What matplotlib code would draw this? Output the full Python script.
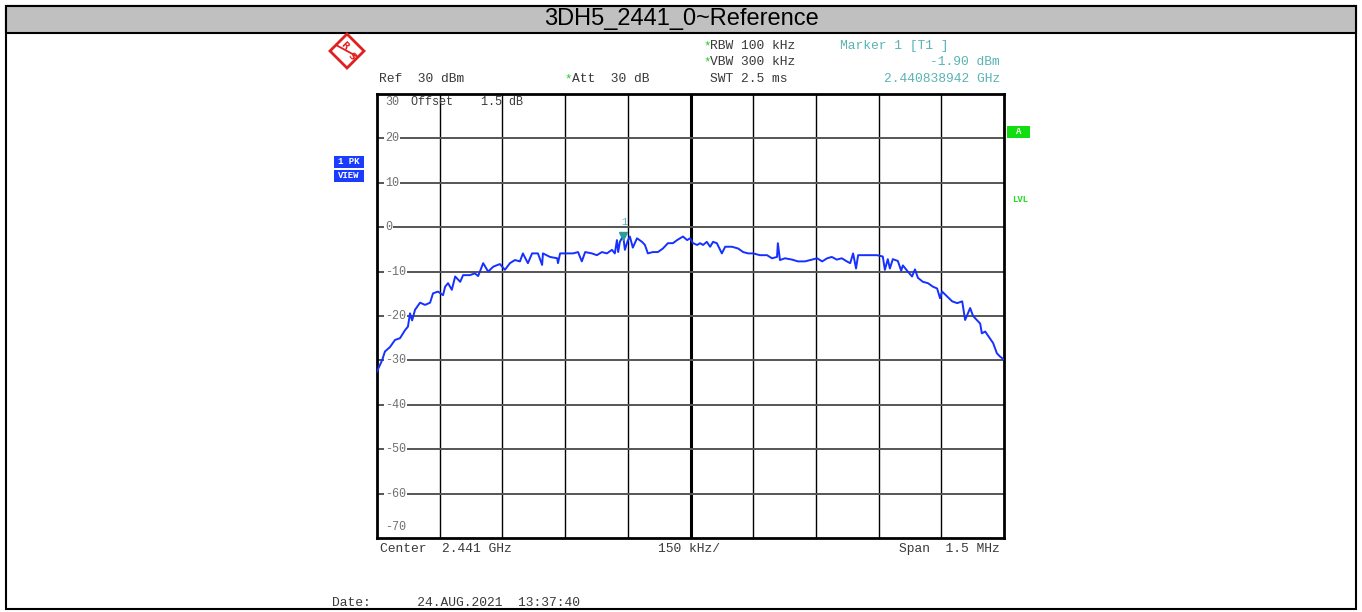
import numpy as np
import matplotlib
matplotlib.use("Agg")
import matplotlib.pyplot as plt
from matplotlib.patches import Rectangle, Polygon

W, H = 1362, 612

# trace: kHz from the left edge of the span, level in dBm
span_khz = [0, 12, 19, 31, 43, 55, 67, 74, 79, 84, 91, 103, 115, 127, 134, 146,
            158, 163, 170, 179, 187, 199, 206, 222, 234, 242, 254, 266, 278, 294,
            306, 318, 330, 342, 349, 361, 371, 385, 395, 397, 414, 431, 433, 438,
            455, 469, 481, 490, 498, 514, 526, 538, 550, 562, 569, 574, 577, 581,
            589, 593, 600, 605, 612, 622, 634, 641, 648, 660, 672, 684, 696, 708,
            718, 725, 732, 742, 749, 756, 766, 773, 780, 789, 797, 804, 813, 825,
            833, 849, 864, 876, 888, 900, 916, 933, 945, 957, 959, 964, 976, 993,
            1007, 1024, 1041, 1053, 1065, 1077, 1088, 1100, 1112, 1124, 1132, 1139,
            1146, 1151, 1163, 1179, 1196, 1210, 1215, 1222, 1227, 1234, 1246, 1254,
            1258, 1270, 1280, 1287, 1294, 1306, 1318, 1330, 1340, 1347, 1352, 1364,
            1376, 1388, 1400, 1407, 1419, 1426, 1435, 1443, 1447, 1455, 1466, 1474,
            1483, 1490, 1500]
level_dbm = [-32.5, -30, -28, -27, -25.4, -25, -23.2, -22.4, -19.4, -21, -18.6, -17,
             -17.5, -17, -14.9, -14.5, -15.3, -13.4, -12.6, -14.1, -11.1, -12.3, -10.8,
             -10.8, -10.4, -11, -8.1, -10, -8.9, -8.3, -9.6, -8.1, -7.4, -7.7, -5.9,
             -8.1, -5.9, -5.9, -8.5, -5.9, -6.7, -7, -8.1, -5.9, -5.9, -5.9, -5.6,
             -7.7, -5.6, -5.9, -6.3, -5.6, -5.9, -5.1, -5.9, -2.9, -5.6, -3.3, -1.9,
             -5.1, -3, -2.1, -4.6, -2.5, -3.3, -4, -5.9, -5.6, -5.6, -4.8, -3.6, -3.6,
             -2.9, -2.5, -2.1, -2.9, -2.5, -3.6, -4, -3.6, -4, -3.3, -4.4, -3.3, -3.6,
             -5.9, -4.4, -4.4, -4.8, -5.6, -5.9, -5.9, -6.3, -6.3, -7, -6.7, -3.6,
             -7.4, -7, -7.3, -7.7, -7.7, -7.3, -7, -7.7, -7, -6.7, -7.3, -7, -7.7,
             -8.1, -5.9, -9.3, -6.3, -6.3, -6.3, -6.3, -6.6, -9.6, -7.2, -9.3, -7.2,
             -7.6, -9.8, -8.6, -10, -11.1, -9.5, -11.4, -12.3, -12.6, -13.4, -13.8,
             -16, -14.5, -15.6, -16.7, -17.1, -16.7, -20.9, -18.2, -20, -20.9, -21.7,
             -23.9, -23.5, -25, -26.1, -28.4, -29.1, -29.8]

start_mhz = 2440.25
span_mhz = 1.5
grid_levels = [20, 10, 0, -10, -20, -30, -40, -50, -60]
marker_mhz = 2440.838942
marker_dbm = -1.90

mono = "Liberation Mono"
teal = "#5ab4b4"
grey = "#707070"
ink = "#3a3a3a"


def fx(x):
    return x / W


def fy(y):
    return 1 - y / H


fig = plt.figure(figsize=(W / 100, H / 100), dpi=100)

# window frame and title bar
fig.add_artist(Rectangle((fx(6), fy(609)), fx(1350), 603 / H, transform=fig.transFigure,
                         fill=False, edgecolor="black", linewidth=1.5))
fig.add_artist(Rectangle((fx(6), fy(33)), fx(1350), 27 / H, transform=fig.transFigure,
                         facecolor="#c0c0c0", edgecolor="black", linewidth=1.5))
fig.text(0.5, fy(19), "3DH5_2441_0~Reference", ha="center", va="center",
         fontsize=17, family=["Liberation Sans Narrow", "Liberation Sans"])

ax = fig.add_axes([fx(377), fy(538), 627 / W, 444 / H])
freq = start_mhz + np.array(span_khz) / 1000.0
ax.plot(freq, level_dbm, color="#1530ff", linewidth=1.4, zorder=3)
ax.set_xlim(start_mhz, start_mhz + span_mhz)
ax.set_ylim(-70, 30)
ax.set_xticks([])
ax.set_yticks([])
for s in ax.spines.values():
    s.set_linewidth(2)

# grid
for i in range(1, 10):
    xv = start_mhz + i * span_mhz / 10
    ax.axvline(xv, color="black", linewidth=2.2 if i == 5 else 1.0, zorder=1)
for lv in grid_levels:
    ax.axhline(lv, color="#555555", linewidth=1.4, zorder=1)
    ax.text(8 / 627, lv, str(lv), transform=ax.get_yaxis_transform(),
            ha="left", va="center", fontsize=8.5, family=mono, color=grey,
            bbox=dict(facecolor="white", edgecolor="none", pad=0.8), zorder=2)
ax.text(8 / 627, 1 - 8 / 444, "30", transform=ax.transAxes, ha="left", va="center",
        fontsize=8.5, family=mono, color=grey)
ax.text(8 / 627, 11 / 444, "-70", transform=ax.transAxes, ha="left", va="center",
        fontsize=8.5, family=mono, color=grey)
ax.text(34 / 627, 1 - 8 / 444, "Offset    1.5 dB", transform=ax.transAxes,
        ha="left", va="center", fontsize=8.5, family=mono, color=ink)

# marker
ax.plot([marker_mhz], [marker_dbm], marker="v", color="#2a9d9d", markersize=6, zorder=4)
ax.text(marker_mhz + 0.002, marker_dbm + 2.0, "1", ha="center", va="bottom",
        fontsize=7.5, family=mono, color=teal)

# header text
hdr = dict(fontsize=9.4, family=mono, color=ink, va="center")
star = dict(color="#22cc22", fontsize=9, family=mono, va="center")
fig.text(fx(703), fy(46), "*", **star)
fig.text(fx(710), fy(46), "RBW 100 kHz", **hdr)
fig.text(fx(703), fy(62), "*", **star)
fig.text(fx(710), fy(62), "VBW 300 kHz", **hdr)
fig.text(fx(379), fy(79), "Ref  30 dBm", **hdr)
fig.text(fx(564), fy(79), "*", **star)
fig.text(fx(572), fy(79), "Att  30 dB", **hdr)
fig.text(fx(710), fy(79), "SWT 2.5 ms", **hdr)
fig.text(fx(840), fy(46), "Marker 1 [T1 ]", fontsize=9.4, family=mono, color=teal, va="center")
fig.text(fx(1000), fy(62), "-1.90 dBm", fontsize=9.4, family=mono, color=teal,
         va="center", ha="right")
fig.text(fx(1000), fy(79), "2.440838942 GHz", fontsize=9.4, family=mono, color=teal,
         va="center", ha="right")

fig.text(fx(380), fy(549), "Center  2.441 GHz", **hdr)
fig.text(fx(658), fy(549), "150 kHz/", **hdr)
fig.text(fx(1000), fy(549), "Span  1.5 MHz", ha="right", fontsize=9.4, family=mono,
         color=ink, va="center")
fig.text(fx(332), fy(603), "Date:      24.AUG.2021  13:37:40", **hdr)

# side labels
for y0, lab in [(156, "1 PK"), (170, "VIEW")]:
    fig.add_artist(Rectangle((fx(334), fy(y0 + 12)), 30 / W, 12 / H, transform=fig.transFigure,
                             facecolor="#1a3cff", edgecolor="none"))
    fig.text(fx(349), fy(y0 + 6), lab, ha="center", va="center", fontsize=6.5,
             family=mono, color="white", weight="bold")
fig.add_artist(Rectangle((fx(1007), fy(138)), 23 / W, 12 / H, transform=fig.transFigure,
                         facecolor="#11dd11", edgecolor="none"))
fig.text(fx(1018.5), fy(132), "A", ha="center", va="center", fontsize=6.5, family=mono,
         color="white", weight="bold")
fig.text(fx(1020), fy(200), "LVL", ha="center", va="center", fontsize=6.5, family=mono,
         color="#22dd22", weight="bold")

# R&S logo
cx, cy, r = 347, 51, 17
fig.add_artist(Polygon([(fx(cx - r), fy(cy)), (fx(cx), fy(cy - r)), (fx(cx + r), fy(cy)),
                        (fx(cx), fy(cy + r))], closed=True, transform=fig.transFigure,
                       fill=False, edgecolor="#e02020", linewidth=2))
fig.add_artist(plt.Line2D([fx(cx - r + 6), fx(cx + r - 6)], [fy(cy - 6), fy(cy + 6)],
                          transform=fig.transFigure, color="#e02020", linewidth=1.3))
fig.text(fx(cx - 3), fy(cy - 5), "R", ha="center", va="center", fontsize=6.5,
         color="#e02020", weight="bold", rotation=-45)
fig.text(fx(cx + 4), fy(cy + 6), "S", ha="center", va="center", fontsize=6.5,
         color="#e02020", weight="bold", rotation=-45)

fig.savefig("out.png", dpi=100)
